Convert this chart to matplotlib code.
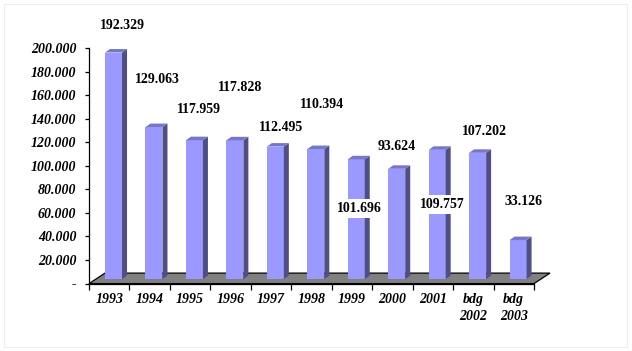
import matplotlib
matplotlib.use('Agg')
import matplotlib.pyplot as plt
from matplotlib.patches import Polygon, Rectangle
from matplotlib.ticker import FuncFormatter

# data
years = ['1993', '1994', '1995', '1996', '1997', '1998', '1999', '2000', '2001', 'bdg\n2002', 'bdg\n2003']
values = [192329, 129063, 117959, 117828, 112495, 110394, 101696, 93624, 109757, 107202, 33126]
value_labels = ['192.329', '129.063', '117.959', '117.828', '112.495', '110.394',
                '101.696', '93.624', '109.757', '107.202', '33.126']

# label placement (pixels, relative to top front of each bar) as Excel put them
label_offsets = [(9, 27), (3, 48), (5, 31), (5, 53), (6, 19), (6, 45),
                 (3, -49), (0, 22), (5, -55), (7, 21), (5, 39)]

W, H = 632, 351
fig = plt.figure(figsize=(W / 100, H / 100), dpi=100)
fig.patch.set_facecolor('white')
ax = fig.add_axes([89 / W, 1 - 283.6 / H, 445 / W, 235.6 / H])
ax.set_xlim(0, len(years))
ax.set_ylim(0, 200000)
ax.patch.set_alpha(0)

# pixel -> data helpers for the fake 3D depth
px_x = len(years) / 445.0
px_y = 200000 / 235.6

floor_dx, floor_dy = 16 * px_x, 10.5 * px_y
off_x, off_y = 4.3 * px_x, 4.5 * px_y
bar_w = 17 * px_x
side_dx, side_dy = 5 * px_x, 3.5 * px_y

front_col = '#9999FF'
side_col = '#4F4F86'
top_col = '#7676CA'

# floor
n = len(years)
floor = Polygon([(0, 0), (n, 0), (n + floor_dx, floor_dy), (floor_dx, floor_dy)],
                closed=True, facecolor='#808080', edgecolor='black', lw=0.9,
                clip_on=False, zorder=1)
ax.add_patch(floor)

for i, v in enumerate(values):
    x0 = i + 0.5 - bar_w / 2 + off_x
    x1 = x0 + bar_w
    yb = off_y
    yt = v + off_y
    ax.add_patch(Polygon([(x0, yb), (x1, yb), (x1, yt), (x0, yt)], closed=True,
                         facecolor=front_col, edgecolor='none', clip_on=False, zorder=3))
    ax.add_patch(Polygon([(x1, yb), (x1 + side_dx, yb + side_dy), (x1 + side_dx, yt + side_dy), (x1, yt)],
                         closed=True, facecolor=side_col, edgecolor='none', clip_on=False, zorder=3))
    ax.add_patch(Polygon([(x0, yt), (x1, yt), (x1 + side_dx, yt + side_dy), (x0 + side_dx, yt + side_dy)],
                         closed=True, facecolor=top_col, edgecolor='none', clip_on=False, zorder=3))
    dx, dy = label_offsets[i]
    ax.annotate(value_labels[i], xy=(i + 0.5 + off_x, yt), xytext=(dx, dy),
                textcoords='offset pixels', ha='center', va='center',
                fontsize=10, fontweight='bold', family='Liberation Serif',
                bbox=dict(boxstyle='square,pad=0.22', facecolor='white', edgecolor='none'),
                zorder=5, annotation_clip=False)

# axes styling
for s in ['top', 'right']:
    ax.spines[s].set_visible(False)
ax.spines['left'].set_linewidth(0.9)
ax.spines['bottom'].set_linewidth(0.9)
ax.spines['bottom'].set_zorder(2)

yt_vals = list(range(0, 200001, 20000))
ax.set_yticks(yt_vals)
ax.yaxis.set_major_formatter(FuncFormatter(
    lambda v, p: '-' if v == 0 else '{:,.0f}'.format(v).replace(',', '.')))
ax.tick_params(axis='y', direction='out', length=3, width=0.9, pad=6)

ax.set_xticks(range(0, n + 1))
ax.set_xticklabels([])
ax.set_xticks([i + 0.5 for i in range(n)], minor=True)
ax.set_xticklabels(years, minor=True)
ax.tick_params(axis='x', which='major', direction='out', length=4, width=0.9)
ax.tick_params(axis='x', which='minor', length=0, pad=6.5)

for lab in ax.get_yticklabels() + ax.get_xticklabels(minor=True):
    lab.set_family('Liberation Serif')
    lab.set_fontweight('bold')
    lab.set_fontstyle('italic')
    lab.set_fontsize(10)
    lab.set_linespacing(1.45)

# faint frame around the picture
fig.patches.append(Rectangle((4 / W, 4 / H), 623 / W, 343 / H, transform=fig.transFigure,
                             fill=False, edgecolor='#eeeeee', lw=0.8))

plt.savefig('out.png', dpi=100)
